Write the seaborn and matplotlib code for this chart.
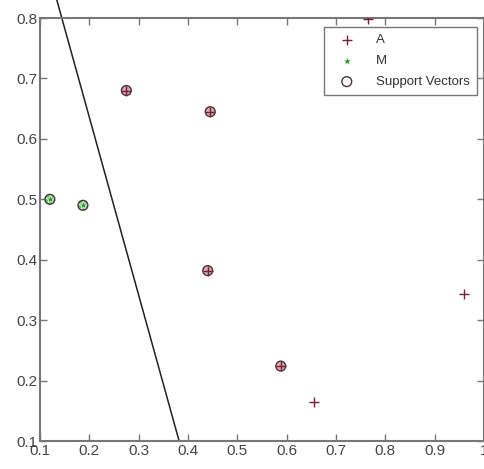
import numpy as np
import pandas as pd
import matplotlib
matplotlib.use("Agg")
import matplotlib.pyplot as plt
import seaborn as sns

# Data
a_x = [0.275, 0.445, 0.440, 0.588, 0.655, 0.960, 0.765]
a_y = [0.680, 0.645, 0.382, 0.224, 0.164, 0.343, 0.798]
m_x = [0.120, 0.187]
m_y = [0.500, 0.490]
sv_x = [0.275, 0.445, 0.440, 0.588, 0.120, 0.187]
sv_y = [0.680, 0.645, 0.382, 0.224, 0.500, 0.490]
boundary_x = [0.134, 0.382]
boundary_y = [0.830, 0.100]
x_ticks = [0.1, 0.2, 0.3, 0.4, 0.5, 0.6, 0.7, 0.8, 0.9, 1.0]
x_tick_labels = ["0.1", "0.2", "0.3", "0.4", "0.5", "0.6", "0.7", "0.8", "0.9", "1"]
y_ticks = [0.1, 0.2, 0.3, 0.4, 0.5, 0.6, 0.7, 0.8]
y_tick_labels = ["0.1", "0.2", "0.3", "0.4", "0.5", "0.6", "0.7", "0.8"]

sns.set_style("white")
plt.rcParams['font.family'] = ['Liberation Sans', 'DejaVu Sans']

fig = plt.figure(figsize=(4.84, 4.69), dpi=100)
ax = fig.add_axes([40/484, 28/469, 1 - 40/484, 423/469])

df_a = pd.DataFrame({"x": a_x, "y": a_y})
df_m = pd.DataFrame({"x": m_x, "y": m_y})
df_sv = pd.DataFrame({"x": sv_x, "y": sv_y})

# support vector fill (soft coloured disc)
sns.scatterplot(data=df_sv.iloc[:4], x="x", y="y", ax=ax, marker="o", s=50,
                color="#d9a8b4", edgecolor="none", legend=False, zorder=2)
sns.scatterplot(data=df_sv.iloc[4:], x="x", y="y", ax=ax, marker="o", s=50,
                color="#6cc46c", edgecolor="none", legend=False, zorder=2)
sns.scatterplot(data=df_a, x="x", y="y", ax=ax, marker="+", s=55,
                color="#7a1f2e", linewidth=1.0, label="A", zorder=3)
sns.scatterplot(data=df_m, x="x", y="y", ax=ax, marker="*", s=45,
                color="#2a9a2a", linewidth=0.5, label="M", zorder=3)
sns.scatterplot(data=df_sv, x="x", y="y", ax=ax, marker="o", s=50,
                facecolor="none", edgecolor="#4a3340", linewidth=1.0,
                label="Support Vectors", zorder=4)

sns.lineplot(x=boundary_x, y=boundary_y, ax=ax, color="#222222", lw=1.1,
             sort=False, estimator=None, clip_on=False, zorder=1)

ax.set_xlim(0.1, 1.0)
ax.set_ylim(0.1, 0.8)
ax.set_xticks(x_ticks)
ax.set_xticklabels(x_tick_labels)
ax.set_yticks(y_ticks)
ax.set_yticklabels(y_tick_labels)
ax.set_xlabel("")
ax.set_ylabel("")
ax.tick_params(direction="in", length=5, width=1, colors="#777777",
               labelcolor="#444444", labelsize=11, top=True, right=True,
               bottom=True, left=True, pad=2)
for s in ax.spines.values():
    s.set_visible(True)
    s.set_color("#777777")
    s.set_linewidth(1.5)

leg = ax.legend(loc="upper right", bbox_to_anchor=(0.99, 0.985), frameon=True,
                fancybox=False, edgecolor="#555555", fontsize=9.5,
                handletextpad=1.0, handlelength=2.4, borderpad=0.55,
                labelspacing=0.65, borderaxespad=0.2)
leg.get_frame().set_linewidth(1.0)
for t in leg.get_texts():
    t.set_color("#333333")

fig.savefig("out.png", dpi=100)
